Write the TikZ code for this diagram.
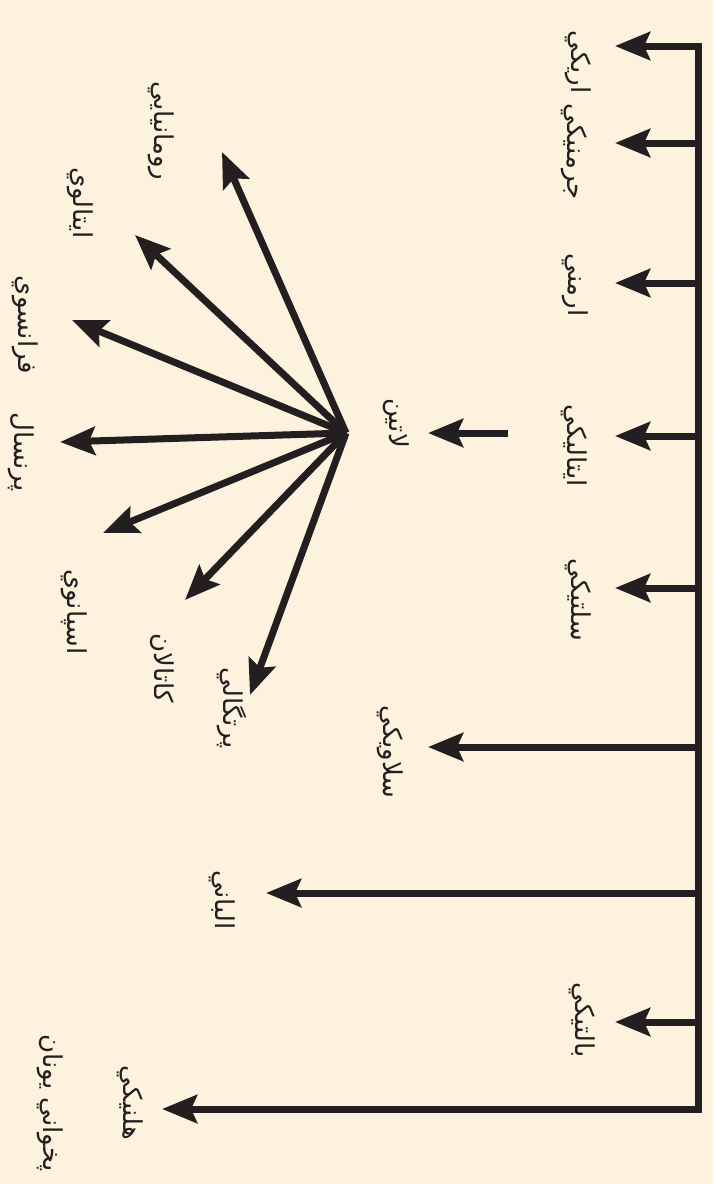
\documentclass[tikz,border=0pt]{standalone}
\usepackage{fontspec}
\newfontfamily\arabicfont[Script=Arabic]{DejaVu Sans}
\TeXXeTstate=1
\usetikzlibrary{arrows.meta, positioning}
\definecolor{cream}{RGB}{253,242,222}
\definecolor{inkblack}{RGB}{35,31,32}

\begin{document}
\begin{tikzpicture}[
  x=1pt, y=-1pt,
  lang/.style = {
    rotate=-90, inner sep=0pt, text=inkblack,
    font=\arabicfont\fontsize{26}{30}\selectfont
  },
  arr/.style = {
    -{Stealth[length=35pt, width=28pt, inset=6pt]},
    line width=7pt, draw=inkblack
  },
  trunk/.style = { line width=7pt, draw=inkblack, line cap=rect }
]

\fill[cream] (0,0) rectangle (713,1184);
\useasboundingbox (0,0) rectangle (713,1184);

% main stem
\coordinate (top) at (698,46);
\coordinate (bottom) at (698,1109);
\draw[trunk] (top) -- (bottom);

% branches off the stem
\coordinate (bAry)  at (698,46);
\coordinate (bGer)  at (698,143);
\coordinate (bArm)  at (698,283);
\coordinate (bIta)  at (698,436);
\coordinate (bCel)  at (698,588);
\coordinate (bSla)  at (698,747);
\coordinate (bAlb)  at (698,893);
\coordinate (bBal)  at (698,1022);
\coordinate (bHel)  at (698,1109);

\coordinate (tAry)  at (615,46);
\coordinate (tGer)  at (615,143);
\coordinate (tArm)  at (615,283);
\coordinate (tIta)  at (615,436);
\coordinate (tCel)  at (615,588);
\coordinate (tSla)  at (428,747);
\coordinate (tAlb)  at (266,893);
\coordinate (tBal)  at (615,1022);
\coordinate (tHel)  at (162,1109);

\node[lang] (aryan)    at (578,62)   {\beginR اریکي\endR};
\node[lang] (germanic) at (574,152)  {\beginR جرمنیکي\endR};
\node[lang] (armenian) at (575,285)  {\beginR ارمني\endR};
\node[lang] (italic)   at (574,446)  {\beginR ایتالیکي\endR};
\node[lang] (celtic)   at (578,600)  {\beginR سلتیکي\endR};
\node[lang] (slavic)   at (390,752)  {\beginR سلاویکي\endR};
\node[lang] (albanian) at (222,900)  {\beginR الباني\endR};
\node[lang] (baltic)   at (582,1020) {\beginR بالتیکي\endR};
\node[lang] (hellenic) at (130,1103) {\beginR هلنیکي\endR};
\node[lang] (greece)   at (50,1103)  {\beginR پخواني یونان\endR};

\foreach \b/\t in {bAry/tAry, bGer/tGer, bArm/tArm, bIta/tIta, bCel/tCel,
                   bSla/tSla, bAlb/tAlb, bBal/tBal, bHel/tHel}
  \draw[arr] (\b) -- (\t);

% latin and its daughters
\coordinate (latStart) at (508,433);
\coordinate (latTip)   at (428,433);
\node[lang] (latin) at (396,423) {\beginR لاتین\endR};
\draw[arr] (latStart) -- (latTip);

\coordinate (hub) at (346,433);
\coordinate (tRom) at (222,152);
\coordinate (tItl) at (135,235);
\coordinate (tFre) at (72,320);
\coordinate (tPro) at (60,442);
\coordinate (tSpa) at (103,533);
\coordinate (tCat) at (185,600);
\coordinate (tPor) at (250,695);

\node[lang] (romanian)   at (161,131) {\beginR رومانیایي\endR};
\node[lang] (italian)    at (80,203)  {\beginR ایتالوي\endR};
\node[lang] (french)     at (25,325)  {\beginR فرانسوي\endR};
\node[lang] (provencal)  at (21,452)  {\beginR پرنسال\endR};
\node[lang] (spanish)    at (74,612)  {\beginR اسپانوي\endR};
\node[lang] (catalan)    at (162,668) {\beginR کاتالان\endR};
\node[lang] (portuguese) at (232,708) {\beginR پرتگالي\endR};

\foreach \t in {tRom, tItl, tFre, tPro, tSpa, tCat, tPor}
  \draw[arr] (hub) -- (\t);

\end{tikzpicture}
\end{document}
